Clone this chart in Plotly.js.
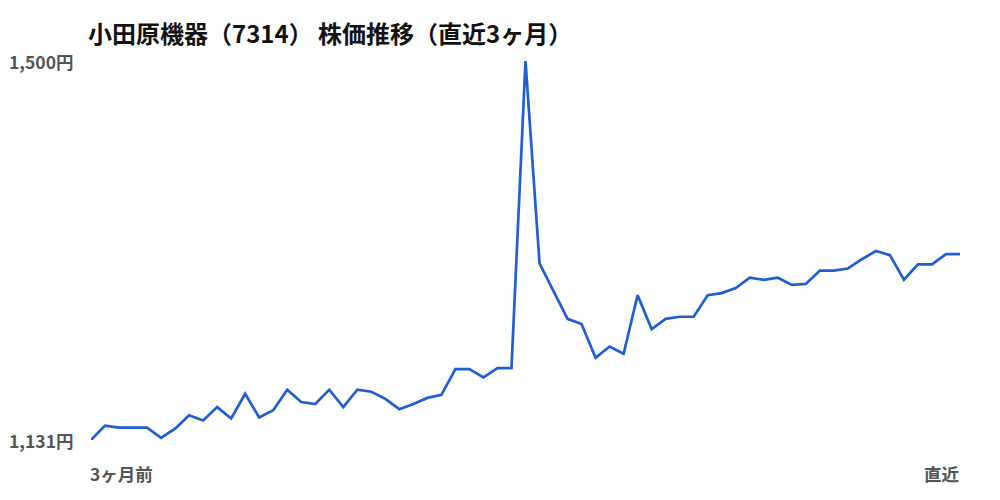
<!DOCTYPE html>
<html>
<head>
<meta charset="utf-8">
<script src="https://cdn.plot.ly/plotly-3.0.1.min.js"></script>
<style>html,body{margin:0;padding:0;background:#fff;}#chart{width:1000px;height:500px;}</style>
</head>
<body>
<div id="chart"></div>
<script>
var chartTitle = "小田原機器（7314） 株価推移（直近3ヶ月）";
var prices = [1131,1145,1143,1143,1143,1133,1142,1155,1150,1163,1152,1176,1153,1160,1180,1168,1166,1180,1163,1180,1178,1171,1161,1166,1172,1175,1200,1200,1192,1201,1201,1500,1303,1276,1249,1244,1211,1222,1215,1272,1239,1249,1251,1251,1272,1274,1279,1289,1287,1289,1282,1283,1296,1296,1298,1307,1315,1311,1287,1302,1302,1312,1312];
var yTickValues = [1500, 1131];
var yTickLabels = ["1,500円", "1,131円"];
var xEndLabels = ["3ヶ月前", "直近"];

var days = prices.map(function(_, i){ return i; });
var font = "'Noto Sans CJK JP', 'Noto Sans', sans-serif";

var annotations = [];
yTickValues.forEach(function(v, i){
  annotations.push({xref:'paper', yref:'y', x:0, y:v, xshift:-15, xanchor:'right', yanchor:'middle', text:yTickLabels[i], showarrow:false, font:{family:font, size:17.5, color:'#555555', weight:'bold'}});
});
annotations.push({xref:'paper', yref:'paper', x:0, y:0, xshift:-3, yshift:-33, xanchor:'left', yanchor:'middle', text:xEndLabels[0], showarrow:false, font:{family:font, size:17.5, color:'#555555', weight:'bold'}});
annotations.push({xref:'paper', yref:'paper', x:1, y:0, xshift:2, yshift:-33, xanchor:'right', yanchor:'middle', text:xEndLabels[1], showarrow:false, font:{family:font, size:17.5, color:'#555555', weight:'bold'}});

Plotly.newPlot('chart', [{
  x: days, y: prices, type:'scatter', mode:'lines',
  line:{color:'#1f5fd1', width:2.7},
  hoverinfo:'skip'
}], {
  width:1000, height:500,
  margin:{l:91, r:40, t:61, b:60},
  paper_bgcolor:'#ffffff', plot_bgcolor:'#ffffff',
  title:{text:chartTitle, xref:'container', x:88/1000, xanchor:'left', yref:'container', y:1-35/500, yanchor:'middle', font:{family:font, size:24, color:'#111111', weight:'bold'}},
  xaxis:{range:[0, prices.length-1], showgrid:false, zeroline:false, showline:false, showticklabels:false, ticks:''},
  yaxis:{range:[1131,1500], showgrid:false, zeroline:false, showline:false, showticklabels:false, ticks:''},
  annotations: annotations,
  showlegend:false
}, {staticPlot:true});
</script>
</body>
</html>
